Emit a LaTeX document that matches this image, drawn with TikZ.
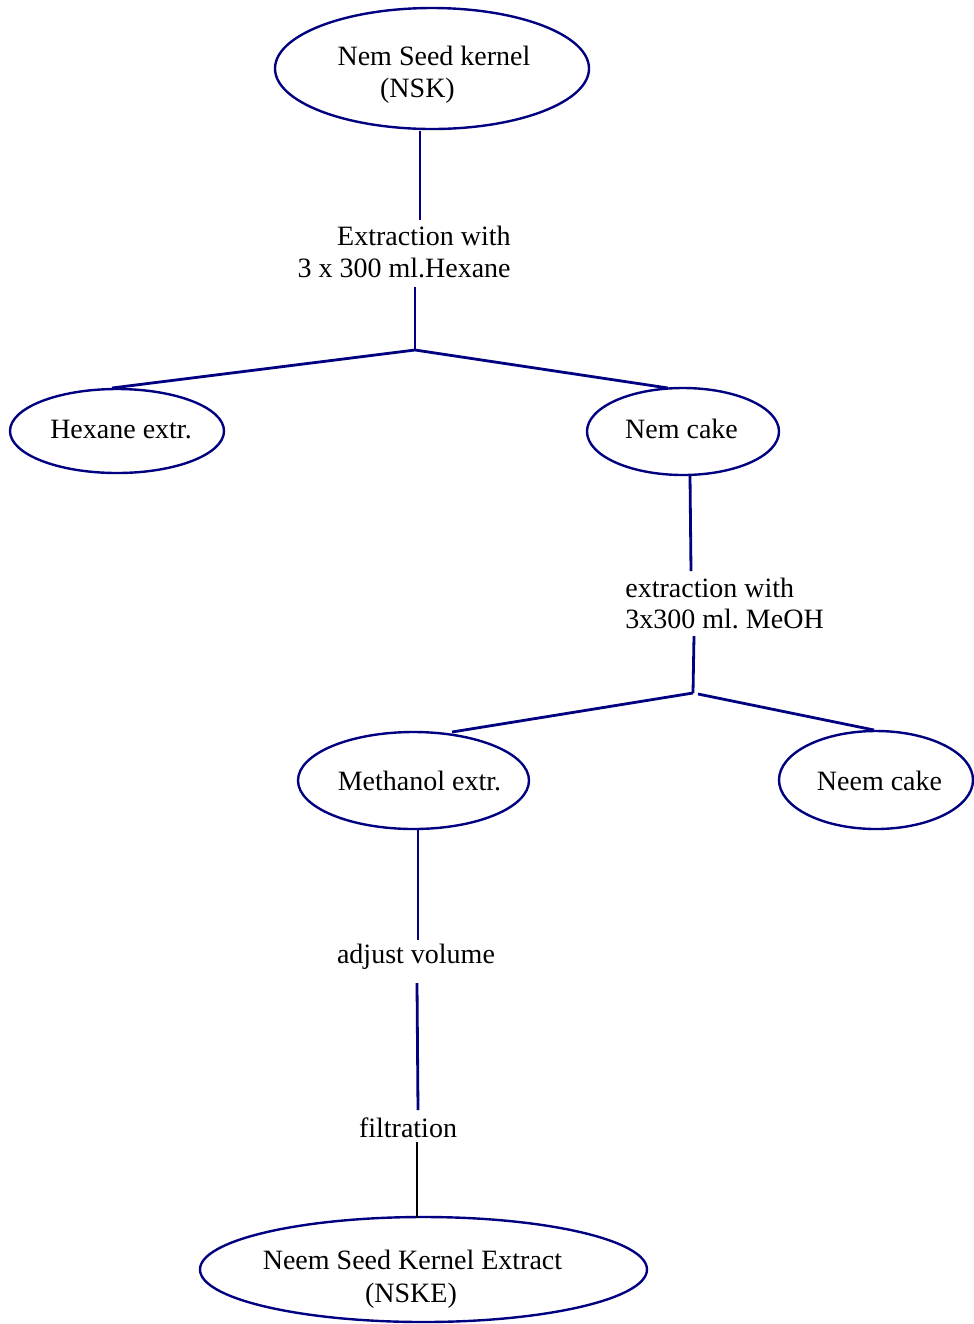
\documentclass[tikz,border=0pt]{standalone}
\usepackage{fontspec}
\setmainfont{Liberation Serif}
\usetikzlibrary{shapes.geometric}
\definecolor{navy}{RGB}{0,0,128}
\frenchspacing
\begin{document}
\begin{tikzpicture}[x=0.5pt,y=-0.5pt,
  oval/.style={ellipse, draw=navy, line width=1.2pt, inner sep=0pt},
  conn/.style={draw=navy, line width=1.4pt},
  conk/.style={draw=black, line width=1.4pt},
  txt/.style={inner sep=0pt, font=\fontsize{14pt}{16pt}\selectfont},
]
\useasboundingbox (0,0) rectangle (974,1324);
% ellipses
\node[oval, minimum width=157pt, minimum height=60.5pt] (nsk) at (432,68.5) {};
\node[oval, minimum width=107pt, minimum height=42pt] (hex) at (117,431) {};
\node[oval, minimum width=96pt, minimum height=43.5pt] (nem) at (683,431.5) {};
\node[oval, minimum width=115.5pt, minimum height=48.5pt] (meth) at (413.5,780.5) {};
\node[oval, minimum width=97pt, minimum height=49pt] (neem) at (876,780) {};
\node[oval, minimum width=223.5pt, minimum height=52.5pt] (nske) at (423.5,1269.5) {};
% texts in ellipses
\node[txt, anchor=base] (nskA) at (434,65) {Nem Seed kernel};
\node[txt, anchor=base] (nskB) at (417.5,97) {(NSK)};
\node[txt, anchor=base] (hexT) at (121,438) {Hexane extr.};
\node[txt, anchor=base] (nemT) at (681.5,438) {Nem cake};
\node[txt, anchor=base] (methT) at (419.5,790) {Methanol extr.};
\node[txt, anchor=base] (neemT) at (879.5,790) {Neem cake};
\node[txt, anchor=base] (nskeA) at (412.5,1269) {Neem Seed Kernel Extract};
\node[txt, anchor=base] (nskeB) at (411,1302) {(NSKE)};
% step labels
\node[txt, anchor=base east] (l1a) at (511,245) {Extraction with};
\node[txt, anchor=base east] (l1b) at (511,277) {3 x 300 ml.Hexane};
\node[txt, anchor=base west] (l2a) at (625,597) {extraction with};
\node[txt, anchor=base west] (l2b) at (625,628) {3x300 ml. MeOH};
\node[txt, anchor=base] (l3) at (416,963) {adjust volume};
\node[txt, anchor=base] (l4) at (408,1137) {filtration};
% connector end points
\coordinate (a1) at (420,131);
\coordinate (a2) at (420,220);
\coordinate (a3) at (415,287);
\coordinate (j1) at (415,350);
\coordinate (h1) at (112,388);
\coordinate (n1) at (668,388);
\coordinate (b1) at (690,475);
\coordinate (b2) at (691,571);
\coordinate (b3) at (694,636);
\coordinate (j2) at (693,693);
\coordinate (j2r) at (698,694);
\coordinate (m1) at (452,732);
\coordinate (k1) at (874,730);
\coordinate (c1) at (418,829);
\coordinate (c2) at (418,940);
\coordinate (c3) at (417,983);
\coordinate (c4) at (418,1110);
\coordinate (d1) at (417,1142);
\coordinate (d2) at (417,1218);
% connectors
\draw[conn] (a1) -- (a2);
\draw[conn] (a3) -- (j1);
\draw[conn] (h1) -- (j1) -- (n1);
\draw[conn] (b1) -- (b2);
\draw[conn] (b3) -- (j2);
\draw[conn] (m1) -- (j2);
\draw[conn] (j2r) -- (k1);
\draw[conn] (c1) -- (c2);
\draw[conn] (c3) -- (c4);
\draw[conk] (d1) -- (d2);
\end{tikzpicture}
\end{document}
